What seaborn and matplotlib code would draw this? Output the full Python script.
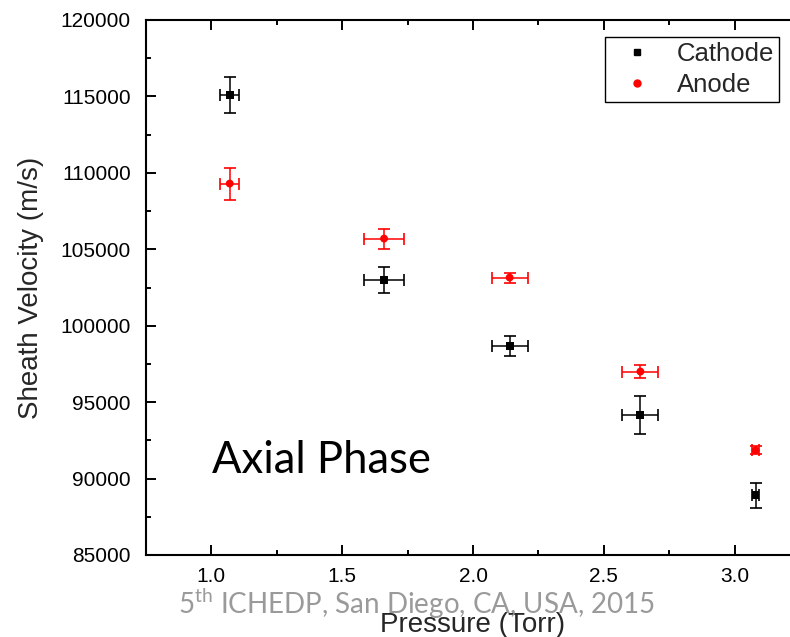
import matplotlib
matplotlib.use("Agg")
import matplotlib.pyplot as plt
import seaborn as sns
import pandas as pd
from matplotlib.ticker import MultipleLocator
from matplotlib.lines import Line2D

# ---- data ----
pressure_cathode = [1.07, 1.66, 2.14, 2.64, 3.08]
velocity_cathode = [115100, 103000, 98650, 94150, 88900]
yerr_cathode = [1170, 850, 650, 1250, 800]
xerr_cathode = [0.036, 0.078, 0.069, 0.069, 0.012]

pressure_anode = [1.07, 1.66, 2.14, 2.64, 3.08]
velocity_anode = [109300, 105700, 103150, 97000, 91850]
yerr_anode = [1050, 650, 330, 450, 250]
xerr_anode = [0.036, 0.078, 0.069, 0.069, 0.015]

series_names = ["Cathode", "Anode"]
x_ticks = [1.0, 1.5, 2.0, 2.5, 3.0]
y_ticks = [85000, 90000, 95000, 100000, 105000, 110000, 115000, 120000]

sns.set_style("ticks")
plt.rcParams["font.family"] = ["Liberation Sans", "DejaVu Sans"]
plt.rcParams["xtick.direction"] = "in"
plt.rcParams["ytick.direction"] = "in"

df = pd.DataFrame({
    "Pressure": pressure_cathode + pressure_anode,
    "Velocity": velocity_cathode + velocity_anode,
    "Series": [series_names[0]] * len(pressure_cathode) + [series_names[1]] * len(pressure_anode),
})

W, H = 790, 637
fig = plt.figure(figsize=(W / 100, H / 100), dpi=100)
ax = fig.add_axes([146 / W, 82 / H, 654 / W, 535 / H])

colors = {"Cathode": "black", "Anode": "red"}
markers = {"Cathode": "s", "Anode": "o"}

ax.errorbar(pressure_cathode, velocity_cathode, yerr=yerr_cathode, xerr=xerr_cathode,
            fmt="none", ecolor="black", elinewidth=1.1, capsize=4.3, capthick=1.2, zorder=2)
ax.errorbar(pressure_anode, velocity_anode, yerr=yerr_anode, xerr=xerr_anode,
            fmt="none", ecolor="red", elinewidth=1.1, capsize=4.3, capthick=1.2, zorder=2)

sns.scatterplot(data=df, x="Pressure", y="Velocity", hue="Series", style="Series",
                palette=colors, markers=markers, s=32, linewidth=0, ax=ax,
                legend=False, zorder=3)

ax.set_xlim(0.75, 3.25)
ax.set_ylim(85000, 120000)
ax.set_xticks(x_ticks)
ax.set_xticklabels([f"{v:.1f}" for v in x_ticks])
ax.set_yticks(y_ticks)
ax.set_yticklabels([str(v) for v in y_ticks])
ax.xaxis.set_minor_locator(MultipleLocator(0.25))
ax.yaxis.set_minor_locator(MultipleLocator(2500))

for s in ax.spines.values():
    s.set_visible(True)
    s.set_linewidth(1.5)
    s.set_color("black")

ax.tick_params(axis="both", which="both", direction="in", top=True, right=True,
               bottom=True, left=True, color="black", width=1.4)
ax.tick_params(axis="both", which="major", length=7, labelsize=15, labelcolor="black")
ax.tick_params(axis="x", which="major", pad=9)
ax.tick_params(axis="y", which="major", pad=11)
ax.tick_params(axis="both", which="minor", length=3.5)

ax.set_xlabel("Pressure (Torr)", fontsize=20, labelpad=18)
ax.set_ylabel("Sheath Velocity (m/s)", fontsize=20, labelpad=12)
ax.grid(False)

handles = [
    Line2D([], [], marker="s", color="black", linestyle="none", markersize=5),
    Line2D([], [], marker="o", color="red", linestyle="none", markersize=5),
]
leg = ax.legend(handles, series_names, loc="upper right",
                bbox_to_anchor=(633 / 654, 518 / 535), borderaxespad=0,
                fontsize=18.5, frameon=True, fancybox=False, edgecolor="black",
                borderpad=0.2, labelspacing=0.28, handlelength=2.1, handletextpad=0.5)
leg.get_frame().set_linewidth(1.0)
leg.get_frame().set_alpha(1)

# annotation inside the plot
txt = ax.text(66 / 654, 82 / 535, "Axial Phase", transform=ax.transAxes,
              fontsize=31, family=["Lato", "DejaVu Sans"], va="baseline", ha="left",
              color="black")

# watermark
wm = fig.text(178 / W, 23 / H, r"5$^{\mathregular{th}}$ ICHEDP, San Diego, CA, USA, 2015",
              fontsize=23, family=["Lato", "DejaVu Sans"], color="#9a9a9a",
              va="baseline", ha="left", zorder=0)

# fit text widths to the reference
fig.canvas.draw()
r = fig.canvas.get_renderer()
for t, target in [(txt, 218), (wm, 477)]:
    w = t.get_window_extent(r).width
    t.set_fontsize(t.get_fontsize() * target / w)

fig.savefig("out.png", dpi=100)
